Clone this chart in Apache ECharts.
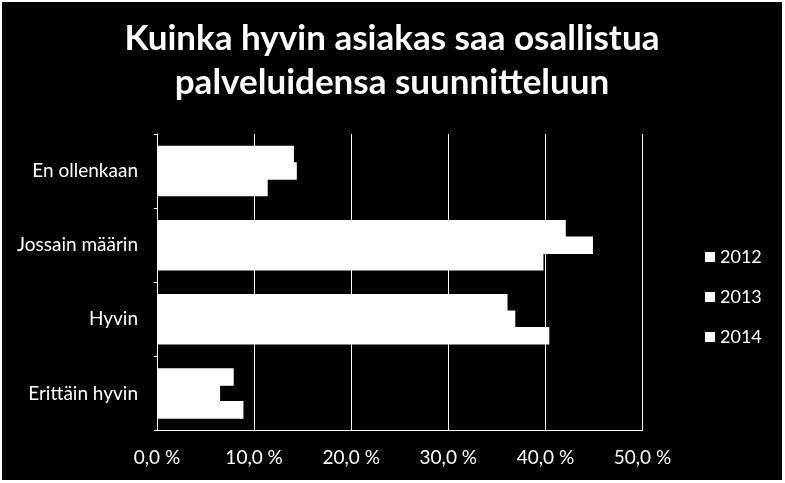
<!DOCTYPE html>
<html>
<head>
<meta charset="utf-8">
<script src="https://cdn.jsdelivr.net/npm/echarts@6/dist/echarts.min.js"></script>
<style>
  html, body { margin: 0; padding: 0; background: #fff; }
  #main { position: absolute; left: 2px; top: 2px; width: 780px; height: 478px; }
</style>
</head>
<body>
<div id="main"></div>
<script>
var categories = ['En ollenkaan', 'Jossain määrin', 'Hyvin', 'Erittäin hyvin'];
var years = ['2012', '2013', '2014'];
var values2012 = [14.1, 42.1, 36.1, 7.9];
var values2013 = [14.4, 44.9, 36.9, 6.5];
var values2014 = [11.4, 39.8, 40.4, 8.9];
var xTicks = [0, 10, 20, 30, 40, 50];

var font = 'Lato';
var chart = echarts.init(document.getElementById('main'));

function makeSeries(name, data) {
  // slight negative gap so neighbouring bars overlap and no seam shows
  return {
    name: name,
    type: 'bar',
    data: data,
    barGap: '-7%',
    barCategoryGap: '32%',
    itemStyle: { color: '#fff' }
  };
}

var option = {
  backgroundColor: '#000',
  animation: false,
  title: {
    text: 'Kuinka hyvin asiakas saa osallistua\npalveluidensa suunnitteluun',
    left: 'center',
    top: 10,
    textStyle: {
      color: '#fff',
      fontFamily: font,
      fontWeight: 'bold',
      fontSize: 35,
      lineHeight: 44
    }
  },
  legend: {
    orient: 'vertical',
    left: 698,
    top: 241,
    itemWidth: 10,
    itemHeight: 10,
    itemGap: 22,
    icon: 'rect',
    data: years,
    textStyle: { color: '#fff', fontFamily: font, fontSize: 18 }
  },
  grid: {
    left: 155,
    right: 139.5,
    top: 132,
    bottom: 49.5
  },
  xAxis: {
    type: 'value',
    min: xTicks[0],
    max: xTicks[xTicks.length - 1],
    interval: 10,
    axisLine: { show: true, lineStyle: { color: '#fff', width: 1 } },
    axisTick: { show: false },
    splitLine: { show: true, lineStyle: { color: '#fff', width: 1 } },
    axisLabel: {
      color: '#fff',
      fontFamily: font,
      fontSize: 19,
      margin: 18,
      formatter: function (v) { return v.toFixed(1).replace('.', ',') + ' %'; }
    }
  },
  yAxis: {
    type: 'category',
    inverse: true,
    data: categories,
    axisLine: { show: true, lineStyle: { color: '#fff', width: 1 } },
    axisTick: { show: true, length: 3, lineStyle: { color: '#fff' } },
    axisLabel: { color: '#fff', fontFamily: font, fontSize: 19, margin: 19 }
  },
  series: [
    makeSeries(years[0], values2012),
    makeSeries(years[1], values2013),
    makeSeries(years[2], values2014)
  ]
};

chart.setOption(option);
</script>
</body>
</html>
